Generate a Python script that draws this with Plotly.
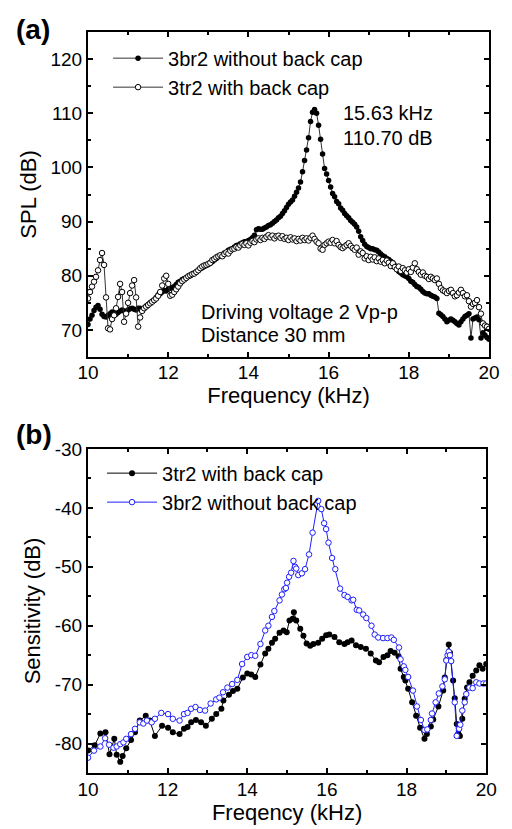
import plotly.graph_objects as go

# ---------------- Panel (a) data ----------------
freq_a = [round(10 + 0.05 * i, 2) for i in range(201)]

spl_without_cap = [
    71.0, 72.0, 72.7, 73.6, 74.2, 74.5, 73.8, 72.9, 72.5, 72.4, 72.7, 73.0, 73.3, 73.1, 72.9, 73.2, 73.5, 73.7, 73.5, 73.4,
    73.7, 73.9, 74.0, 73.8, 73.7, 74.0, 74.0, 73.6, 74.0, 74.4, 74.7, 75.0, 75.3, 75.5, 76.0, 76.5, 76.7, 77.0, 77.3, 77.2,
    77.5, 77.7, 77.8, 78.0, 78.4, 78.8, 79.0, 79.3, 79.5, 79.6, 79.9, 80.0, 80.3, 80.5, 80.7, 81.0, 81.3, 81.5, 81.7, 81.9,
    82.1, 82.3, 82.6, 82.9, 83.2, 83.5, 83.6, 83.9, 84.2, 84.3, 84.7, 84.9, 85.0, 85.3, 85.6, 85.7, 85.9, 86.1, 86.3, 86.3,
    86.5, 86.7, 87.0, 87.5, 88.5, 88.7, 88.6, 88.6, 88.8, 89.0, 89.3, 89.4, 89.7, 90.0, 90.3, 90.7, 91.0, 91.5, 92.0, 92.6,
    93.2, 93.6, 94.0, 94.7, 95.4, 96.2, 97.3, 99.2, 101.3, 103.2, 105.5, 108.5, 110.2, 110.7, 110.0, 107.8, 105.2, 102.5, 99.8, 98.8,
    97.6, 96.4, 95.2, 94.6, 93.7, 93.3, 92.5, 92.1, 91.5, 91.1, 90.7, 90.2, 89.9, 89.5, 89.0, 88.2, 87.2, 86.5, 85.8, 85.4,
    85.2, 85.0, 85.0, 84.8, 84.7, 84.4, 84.0, 83.7, 83.5, 83.2, 83.0, 82.7, 82.4, 81.9, 81.4, 80.8, 80.5, 80.2, 80.0, 79.8,
    79.5, 79.0, 78.8, 78.4, 78.0, 77.9, 77.5, 77.1, 76.8, 76.7, 76.7, 76.4, 76.2, 76.1, 75.8, 73.1, 72.8, 72.5, 72.0, 71.5,
    71.8, 72.0, 71.8, 71.5, 71.2, 70.9, 71.5, 72.0, 72.5, 72.7, 73.0, 68.5, 72.0, 72.2, 72.4, 71.9, 68.5, 69.5, 69.0, 68.6,
    68.3,
]

spl_with_cap = [
    75.8, 77.0, 78.0, 78.9, 79.8, 81.0, 82.9, 84.2, 82.0, 76.0, 70.3, 70.1, 72.0, 72.7, 74.0, 76.1, 78.5, 77.0, 71.5, 73.0,
    75.0, 76.8, 78.2, 79.2, 76.0, 70.6, 72.3, 73.5, 74.0, 74.3, 74.6, 74.9, 75.2, 75.5, 75.8, 76.3, 77.0, 78.2, 79.5, 80.0,
    78.5, 76.3, 76.5, 77.0, 77.5, 78.0, 78.6, 79.0, 79.3, 79.6, 79.9, 80.1, 80.3, 80.4, 80.7, 81.0, 81.4, 81.7, 81.9, 82.0,
    82.2, 82.4, 82.9, 83.1, 83.4, 83.6, 83.8, 83.6, 84.0, 84.3, 84.1, 84.6, 84.9, 85.0, 85.3, 85.2, 85.6, 85.9, 85.7, 86.0,
    85.6, 86.1, 86.4, 86.2, 86.7, 86.9, 86.6, 87.0, 86.8, 87.2, 87.5, 87.1, 87.4, 86.9, 87.3, 87.4, 87.0, 87.3, 86.8, 87.0,
    86.6, 87.1, 86.7, 86.9, 86.4, 86.8, 86.5, 87.0, 86.6, 86.9, 86.5, 87.0, 87.4, 86.8, 86.3, 86.0, 85.0, 84.8, 85.7, 86.0,
    86.3, 86.1, 86.6, 86.0, 86.4, 85.7, 85.3, 85.1, 85.4, 85.7, 86.0, 85.5, 85.1, 84.8, 85.2, 83.9, 84.5, 84.2, 83.2, 83.6,
    82.9, 83.5, 83.0, 83.4, 82.7, 83.2, 82.6, 82.9, 82.3, 82.8, 82.4, 81.8, 82.3, 81.6, 81.2, 81.7, 80.9, 81.4, 81.0, 80.6,
    81.2, 80.7, 81.5, 82.3, 81.2, 80.7, 80.2, 80.6, 80.0, 79.8, 79.4, 79.8, 79.5, 79.2, 79.5, 78.5, 77.7, 77.3, 77.1, 76.8,
    77.2, 77.4, 76.8, 76.2, 76.4, 76.9, 77.4, 76.8, 76.2, 76.4, 75.3, 74.3, 74.8, 75.0, 75.5, 74.2, 73.0, 71.2, 70.8, 70.6,
    70.2,
]

# ---------------- Panel (b) data ----------------
freq_b_with_cap = [
    10.00, 10.17, 10.31, 10.44, 10.54, 10.66, 10.72, 10.81, 10.87, 10.96, 11.08, 11.18, 11.30, 11.45, 11.55, 11.68,
    11.86, 12.01, 12.13, 12.30, 12.41, 12.50, 12.59, 12.71, 12.84, 12.96, 13.11, 13.22, 13.35, 13.40, 13.54, 13.64,
    13.75, 13.89, 14.00, 14.10, 14.20, 14.33, 14.45, 14.53, 14.62, 14.70, 14.81, 14.91, 14.99, 15.06, 15.14, 15.17,
    15.23, 15.33, 15.41, 15.49, 15.58, 15.66, 15.78, 15.88, 15.98, 16.06, 16.19, 16.31, 16.44, 16.52, 16.62, 16.73,
    16.85, 16.98, 17.10, 17.23, 17.31, 17.42, 17.52, 17.60, 17.70, 17.80, 17.85, 17.93, 17.97, 18.04, 18.14, 18.24,
    18.34, 18.45, 18.51, 18.61, 18.67, 18.80, 18.92, 18.96, 19.00, 19.06, 19.09, 19.17, 19.21, 19.26, 19.30, 19.34,
    19.40, 19.46, 19.52, 19.58, 19.66, 19.75, 19.83, 19.91, 20.00,
]
sens_with_cap = [
    -81.2, -80.3, -78.3, -78.1, -81.8, -79.2, -81.9, -83.1, -82.1, -80.8, -79.4, -78.1, -76.1, -75.3, -76.1, -78.7,
    -77.0, -77.3, -78.1, -78.4, -77.5, -77.2, -76.4, -76.0, -76.4, -77.0, -75.8, -75.0, -74.1, -72.7, -71.7, -71.1,
    -70.7, -68.8, -68.1, -68.3, -68.7, -66.6, -64.7, -63.9, -62.9, -62.2, -61.2, -60.8, -61.1, -59.1, -58.8, -57.7,
    -59.1, -60.5, -61.7, -63.0, -63.4, -63.1, -62.9, -62.2, -61.6, -61.5, -61.9, -62.8, -63.1, -62.8, -62.5, -63.3,
    -63.6, -63.9, -64.7, -65.9, -66.2, -65.3, -65.0, -64.3, -64.6, -65.2, -67.3, -68.7, -69.3, -70.7, -73.0, -75.3,
    -77.3, -79.2, -78.4, -77.1, -75.9, -73.7, -71.0, -68.8, -65.8, -63.2, -64.6, -69.3, -72.3, -76.7, -78.3, -78.7,
    -75.8, -72.4, -70.5, -69.6, -68.5, -67.6, -66.7, -67.3, -66.5,
]

freq_b_without_cap = [
    10.00, 10.15, 10.31, 10.43, 10.53, 10.64, 10.72, 10.81, 10.89, 10.96, 11.08, 11.18, 11.30, 11.39, 11.48, 11.60,
    11.68, 11.84, 12.01, 12.13, 12.30, 12.41, 12.50, 12.59, 12.70, 12.81, 12.94, 13.08, 13.22, 13.30, 13.39, 13.50,
    13.62, 13.75, 13.87, 14.00, 14.10, 14.20, 14.33, 14.45, 14.53, 14.62, 14.68, 14.81, 14.87, 14.93, 14.97, 15.00,
    15.05, 15.10, 15.16, 15.20, 15.23, 15.28, 15.37, 15.45, 15.55, 15.64, 15.78, 15.86, 15.93, 15.98, 16.04, 16.13,
    16.21, 16.33, 16.44, 16.52, 16.62, 16.66, 16.75, 16.81, 16.91, 16.99, 17.12, 17.20, 17.29, 17.41, 17.52, 17.62,
    17.68, 17.81, 17.85, 17.93, 17.97, 18.04, 18.16, 18.26, 18.36, 18.45, 18.52, 18.61, 18.64, 18.73, 18.81, 18.90,
    18.96, 19.00, 19.03, 19.06, 19.09, 19.12, 19.21, 19.26, 19.32, 19.35, 19.40, 19.46, 19.50, 19.58, 19.66, 19.75,
    19.83, 19.93, 20.00,
]
sens_without_cap = [
    -82.4, -81.2, -80.5, -79.1, -80.2, -80.7, -80.5, -80.1, -79.8, -79.2, -78.4, -77.5, -76.4, -76.6, -76.1, -76.4,
    -75.8, -74.8, -75.0, -75.8, -76.1, -75.0, -74.8, -74.1, -73.8, -74.3, -74.4, -73.2, -72.5, -72.2, -71.3, -70.5,
    -69.9, -69.2, -66.5, -65.3, -65.0, -65.1, -63.1, -60.8, -60.0, -58.5, -57.5, -55.7, -54.7, -53.8, -53.6, -52.7,
    -51.7, -51.0, -49.0, -50.0, -50.3, -51.4, -51.1, -50.4, -47.9, -44.2, -38.8, -40.2, -42.6, -43.6, -45.9, -48.5,
    -50.4, -53.7, -54.8, -55.1, -55.7, -55.6, -57.3, -57.4, -58.1, -58.7, -60.0, -61.5, -62.0, -62.1, -62.1, -62.0,
    -62.4, -63.7, -65.7, -66.9, -67.5, -68.7, -71.0, -73.7, -76.0, -77.7, -77.6, -76.0, -74.9, -73.0, -71.5, -70.3,
    -69.1, -65.9, -65.0, -64.4, -65.0, -66.0, -73.0, -78.7, -77.5, -76.8, -74.4, -73.0, -71.6, -70.5, -70.6, -69.6,
    -69.8, -69.8, -69.8,
]

# tick labels
x_tickvals = [10, 12, 14, 16, 18, 20]
x_ticktext = ["10", "12", "14", "16", "18", "20"]
ya_tickvals = [70, 80, 90, 100, 110, 120]
ya_ticktext = ["70", "80", "90", "100", "110", "120"]
yb_tickvals = [-80, -70, -60, -50, -40, -30]
yb_ticktext = ["-80", "-70", "-60", "-50", "-40", "-30"]

FONT = "Liberation Sans, Arial, Helvetica, sans-serif"
BLUE = "#1f1fff"

fig = go.Figure()

fig.add_trace(go.Scatter(
    x=freq_a, y=spl_without_cap, mode="lines+markers", name="3br2 without back cap",
    line=dict(color="#333333", width=1),
    marker=dict(symbol="circle", size=5.5, color="black", line=dict(width=0)),
    xaxis="x", yaxis="y", legend="legend",
))
fig.add_trace(go.Scatter(
    x=freq_a, y=spl_with_cap, mode="lines+markers", name="3tr2 with back cap",
    line=dict(color="#333333", width=1),
    marker=dict(symbol="circle", size=5.5, color="white", line=dict(width=1, color="black")),
    xaxis="x", yaxis="y", legend="legend",
))
fig.add_trace(go.Scatter(
    x=freq_b_with_cap, y=sens_with_cap, mode="lines+markers", name="3tr2 with back cap",
    line=dict(color="black", width=1),
    marker=dict(symbol="circle", size=6, color="black", line=dict(width=0)),
    xaxis="x2", yaxis="y2", legend="legend2",
))
fig.add_trace(go.Scatter(
    x=freq_b_without_cap, y=sens_without_cap, mode="lines+markers", name="3br2 without back cap",
    line=dict(color=BLUE, width=1),
    marker=dict(symbol="circle", size=5.5, color="white", line=dict(width=1, color=BLUE)),
    xaxis="x2", yaxis="y2", legend="legend2",
))

axis_common = dict(
    showline=True, linecolor="black", linewidth=2, mirror="ticks",
    ticks="inside", ticklen=5, tickwidth=1.5, tickcolor="black",
    showgrid=False, zeroline=False,
    tickfont=dict(family=FONT, size=19, color="black"),
    title_font=dict(family=FONT, size=22, color="black"),
)

top_a = 1.0
bot_a = 416 / 741
top_b = 324 / 741

fig.update_layout(
    width=512, height=829,
    margin=dict(l=88, r=19, t=32, b=56),
    paper_bgcolor="white", plot_bgcolor="white",
    font=dict(family=FONT, color="black"),
    xaxis=dict(axis_common, domain=[0, 1], anchor="y", range=[10, 20],
               tickvals=x_tickvals, ticktext=x_ticktext, ticklabelstandoff=-3,
               minor=dict(ticks="inside", ticklen=3, dtick=1, tickcolor="black"),
               title=dict(text="Frequency (kHz)", standoff=0)),
    yaxis=dict(axis_common, domain=[bot_a, top_a], anchor="x", range=[65, 125],
               tickvals=ya_tickvals, ticktext=ya_ticktext,
               minor=dict(ticks="inside", ticklen=3, dtick=5, tickcolor="black"),
               title=dict(text="SPL (dB)", standoff=8)),
    xaxis2=dict(axis_common, domain=[0, 0.993], anchor="y2", range=[10, 20],
                tickvals=x_tickvals, ticktext=x_ticktext, ticklabelstandoff=-2,
                minor=dict(ticks="inside", ticklen=3, dtick=1, tickcolor="black"),
                title=dict(text="Freqency (kHz)", standoff=0)),
    yaxis2=dict(axis_common, domain=[0, top_b], anchor="x2", range=[-85, -30],
                tickvals=yb_tickvals, ticktext=yb_ticktext,
                minor=dict(ticks="inside", ticklen=3, dtick=5, tickcolor="black"),
                title=dict(text="Sensitivity (dB)", standoff=8)),
    legend=dict(x=0.05, y=0.991, xanchor="left", yanchor="top",
                bgcolor="rgba(0,0,0,0)", itemwidth=50, tracegroupgap=0,
                font=dict(family=FONT, size=20, color="black")),
    legend2=dict(x=0.035, y=0.431, xanchor="left", yanchor="top",
                 bgcolor="rgba(0,0,0,0)", itemwidth=50, tracegroupgap=0,
                 font=dict(family=FONT, size=20, color="black")),
    showlegend=True,
)

ann_font = dict(family=FONT, size=20, color="black")
fig.add_annotation(x=16.3, y=110.0, xref="x", yref="y", text="15.63 kHz", showarrow=False,
                   xanchor="left", yanchor="middle", font=ann_font)
fig.add_annotation(x=16.3, y=105.5, xref="x", yref="y", text="110.70 dB", showarrow=False,
                   xanchor="left", yanchor="middle", font=ann_font)
fig.add_annotation(x=12.77, y=73.3, xref="x", yref="y", text="Driving voltage 2 Vp-p", showarrow=False,
                   xanchor="left", yanchor="middle", font=ann_font)
fig.add_annotation(x=12.77, y=69.1, xref="x", yref="y", text="Distance 30 mm", showarrow=False,
                   xanchor="left", yanchor="middle", font=ann_font)

lab_font = dict(family=FONT, size=28, color="black")
fig.add_annotation(x=-0.185, y=(773 - 30) / 741, xref="paper", yref="paper", text="<b>(a)</b>",
                   showarrow=False, xanchor="left", yanchor="middle", font=lab_font)
fig.add_annotation(x=-0.185, y=(773 - 434) / 741, xref="paper", yref="paper", text="<b>(b)</b>",
                   showarrow=False, xanchor="left", yanchor="middle", font=lab_font)

fig.write_html("out.html", config={"displayModeBar": False},
               post_script="document.body.style.margin='0';")
